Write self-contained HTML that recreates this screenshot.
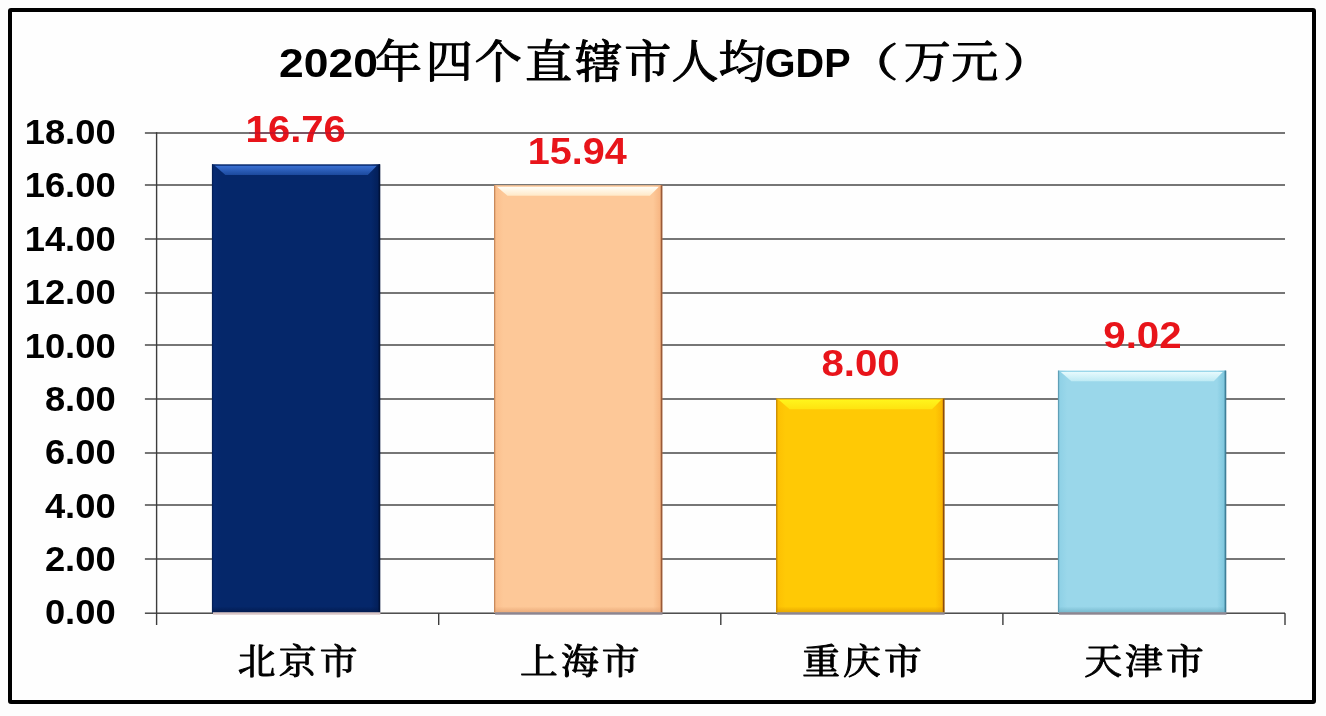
<!DOCTYPE html>
<html lang="zh-CN">
<head>
<meta charset="utf-8">
<title>2020年四个直辖市人均GDP（万元）</title>
<style>
html,body{margin:0;padding:0;background:#fdfdfd;}
body{width:1326px;height:716px;overflow:hidden;position:relative;}
svg{position:absolute;left:0;top:0;display:block;}
.ax{font-family:"Liberation Sans","Noto Sans CJK SC",sans-serif;font-weight:700;font-size:34.6px;fill:#000;}
.dv{font-family:"Liberation Sans","Noto Sans CJK SC",sans-serif;font-weight:700;font-size:36.4px;fill:#e8141a;}
.cat{font-family:"Liberation Serif","Noto Serif CJK SC",serif;font-weight:400;font-size:37px;fill:#000;stroke:#000;stroke-width:1.05px;stroke-linejoin:round;letter-spacing:3.1px;}
.tl{font-family:"Liberation Sans","Noto Sans CJK SC",sans-serif;font-weight:700;font-size:41px;fill:#000;}
.tc{font-family:"Liberation Serif","Noto Serif CJK SC",serif;font-weight:400;font-size:47px;fill:#000;stroke:#000;stroke-width:1.2px;stroke-linejoin:round;}
</style>
</head>
<body>
<svg width="1326" height="716" viewBox="0 0 1326 716">
<defs><linearGradient id="hl0" x1="0" y1="0" x2="0" y2="1"><stop offset="0" stop-color="#3a70d2"/><stop offset="1" stop-color="#1c4a9e"/></linearGradient><linearGradient id="gl0" x1="0" y1="0" x2="1" y2="0"><stop offset="0" stop-color="#0a2e7a" stop-opacity="0.6"/><stop offset="1" stop-color="#0a2e7a" stop-opacity="0"/></linearGradient><linearGradient id="gr0" x1="0" y1="0" x2="1" y2="0"><stop offset="0" stop-color="#021a4e" stop-opacity="0"/><stop offset="1" stop-color="#021a4e" stop-opacity="0.75"/></linearGradient><linearGradient id="gb0" x1="0" y1="0" x2="0" y2="1"><stop offset="0" stop-color="#021a4e" stop-opacity="0"/><stop offset="1" stop-color="#021a4e" stop-opacity="0.9"/></linearGradient><linearGradient id="hl1" x1="0" y1="0" x2="0" y2="1"><stop offset="0" stop-color="#fffef8"/><stop offset="1" stop-color="#ffe9c8"/></linearGradient><linearGradient id="gl1" x1="0" y1="0" x2="1" y2="0"><stop offset="0" stop-color="#f8b682" stop-opacity="0.6"/><stop offset="1" stop-color="#f8b682" stop-opacity="0"/></linearGradient><linearGradient id="gr1" x1="0" y1="0" x2="1" y2="0"><stop offset="0" stop-color="#f3aa74" stop-opacity="0"/><stop offset="1" stop-color="#f3aa74" stop-opacity="0.75"/></linearGradient><linearGradient id="gb1" x1="0" y1="0" x2="0" y2="1"><stop offset="0" stop-color="#e9a877" stop-opacity="0"/><stop offset="1" stop-color="#e9a877" stop-opacity="0.9"/></linearGradient><linearGradient id="hl2" x1="0" y1="0" x2="0" y2="1"><stop offset="0" stop-color="#fff41c"/><stop offset="1" stop-color="#ffe310"/></linearGradient><linearGradient id="gl2" x1="0" y1="0" x2="1" y2="0"><stop offset="0" stop-color="#fbb800" stop-opacity="0.6"/><stop offset="1" stop-color="#fbb800" stop-opacity="0"/></linearGradient><linearGradient id="gr2" x1="0" y1="0" x2="1" y2="0"><stop offset="0" stop-color="#f7a800" stop-opacity="0"/><stop offset="1" stop-color="#f7a800" stop-opacity="0.75"/></linearGradient><linearGradient id="gb2" x1="0" y1="0" x2="0" y2="1"><stop offset="0" stop-color="#e6a400" stop-opacity="0"/><stop offset="1" stop-color="#e6a400" stop-opacity="0.9"/></linearGradient><linearGradient id="hl3" x1="0" y1="0" x2="0" y2="1"><stop offset="0" stop-color="#e6fafd"/><stop offset="1" stop-color="#bdeaf4"/></linearGradient><linearGradient id="gl3" x1="0" y1="0" x2="1" y2="0"><stop offset="0" stop-color="#84cbe2" stop-opacity="0.6"/><stop offset="1" stop-color="#84cbe2" stop-opacity="0"/></linearGradient><linearGradient id="gr3" x1="0" y1="0" x2="1" y2="0"><stop offset="0" stop-color="#6dbdd6" stop-opacity="0"/><stop offset="1" stop-color="#6dbdd6" stop-opacity="0.75"/></linearGradient><linearGradient id="gb3" x1="0" y1="0" x2="0" y2="1"><stop offset="0" stop-color="#74b6cb" stop-opacity="0"/><stop offset="1" stop-color="#74b6cb" stop-opacity="0.9"/></linearGradient></defs>
<rect x="0" y="0" width="1326" height="716" fill="#fdfdfd"/>
<rect x="10" y="10" width="1304" height="692" fill="#fefefe" stroke="#000" stroke-width="4" rx="1"/>
<g id="title">
<text class="tl" transform="translate(279,77.4) scale(1.084,1)">2020</text>
<text class="tc" transform="translate(0,60) scale(1,0.96) translate(0,-60)" x="374.9 425.65 474.75 525.1 575.15 624.2 671.4 718.5" y="79">年四个直辖市人均</text>
<text class="tl" transform="translate(764.8,77.4) scale(0.966,1)">GDP</text>
<text class="tc" transform="translate(887.1,61.25) scale(1.13,0.84) translate(-887,-60)" x="850.1" y="79">（</text>
<text class="tc" transform="translate(0,60) scale(1,0.96) translate(0,-60)" x="903.75 951.2" y="79">万元</text>
<text class="tc" transform="translate(1013.45,61.25) scale(1.1,0.84) translate(-1013.5,-60)" x="1003.75" y="79">）</text>
</g>
<g id="grid">
<rect x="144.9" y="612.50" width="1140.1" height="1.4" fill="#3c3c3c"/>
<rect x="144.9" y="558.30" width="1140.1" height="1.4" fill="#3c3c3c"/>
<rect x="144.9" y="504.30" width="1140.1" height="1.4" fill="#3c3c3c"/>
<rect x="144.9" y="452.30" width="1140.1" height="1.4" fill="#3c3c3c"/>
<rect x="144.9" y="398.30" width="1140.1" height="1.4" fill="#3c3c3c"/>
<rect x="144.9" y="344.30" width="1140.1" height="1.4" fill="#3c3c3c"/>
<rect x="144.9" y="292.30" width="1140.1" height="1.4" fill="#3c3c3c"/>
<rect x="144.9" y="238.30" width="1140.1" height="1.4" fill="#3c3c3c"/>
<rect x="144.9" y="184.30" width="1140.1" height="1.4" fill="#3c3c3c"/>
<rect x="144.9" y="132.30" width="1140.1" height="1.4" fill="#3c3c3c"/>
<rect x="155.90" y="132.2" width="1.4" height="492.8" fill="#3c3c3c"/>
<rect x="438.00" y="613.2" width="1.4" height="11.8" fill="#3c3c3c"/>
<rect x="720.10" y="613.2" width="1.4" height="11.8" fill="#3c3c3c"/>
<rect x="1002.20" y="613.2" width="1.4" height="11.8" fill="#3c3c3c"/>
<rect x="1284.30" y="613.2" width="1.4" height="11.8" fill="#3c3c3c"/>
</g>
<g id="ylabels">
<text class="ax" transform="translate(115.6,624.3) scale(1.05,1)" text-anchor="end">0.00</text>
<text class="ax" transform="translate(115.6,570.9) scale(1.05,1)" text-anchor="end">2.00</text>
<text class="ax" transform="translate(115.6,517.6) scale(1.05,1)" text-anchor="end">4.00</text>
<text class="ax" transform="translate(115.6,464.2) scale(1.05,1)" text-anchor="end">6.00</text>
<text class="ax" transform="translate(115.6,410.8) scale(1.05,1)" text-anchor="end">8.00</text>
<text class="ax" transform="translate(115.6,357.5) scale(1.05,1)" text-anchor="end">10.00</text>
<text class="ax" transform="translate(115.6,304.1) scale(1.05,1)" text-anchor="end">12.00</text>
<text class="ax" transform="translate(115.6,250.7) scale(1.05,1)" text-anchor="end">14.00</text>
<text class="ax" transform="translate(115.6,197.3) scale(1.05,1)" text-anchor="end">16.00</text>
<text class="ax" transform="translate(115.6,144.0) scale(1.05,1)" text-anchor="end">18.00</text>
</g>
<g id="bars">
<g>
<rect x="212.2" y="164.3" width="167.8" height="448.1" fill="#05276a"/>
<rect x="212.2" y="164.3" width="9" height="448.1" fill="url(#gl0)"/>
<rect x="371.0" y="164.3" width="9" height="448.1" fill="url(#gr0)"/>
<rect x="212.2" y="606.4" width="167.8" height="6" fill="url(#gb0)"/>
<polygon points="214.8,165.8 376.8,165.8 367.8,174.9 225.4,174.9" fill="url(#hl0)"/>
<rect x="211.9" y="164.3" width="1.3" height="448.1" fill="#041f58"/>
<rect x="378.6" y="164.3" width="1.7" height="448.1" fill="#01133a"/>
<rect x="213.0" y="612.3" width="167.4" height="2.4" fill="#d8c4c4"/>
<text class="dv" transform="translate(295.7,141.9) scale(1.1,1)" text-anchor="middle">16.76</text>
<text class="cat" transform="translate(299.2,674.0) scale(1.02,0.95)" text-anchor="middle">北京市</text>
</g>
<g>
<rect x="494.3" y="185.2" width="167.8" height="427.2" fill="#fdc898"/>
<rect x="494.3" y="185.2" width="9" height="427.2" fill="url(#gl1)"/>
<rect x="653.1" y="185.2" width="9" height="427.2" fill="url(#gr1)"/>
<rect x="494.3" y="606.4" width="167.8" height="6" fill="url(#gb1)"/>
<polygon points="496.9,186.7 658.9,186.7 649.9,195.8 507.5,195.8" fill="url(#hl1)"/>
<rect x="494.0" y="185.2" width="1.3" height="427.2" fill="#c98a5c"/>
<rect x="660.7" y="185.2" width="1.7" height="427.2" fill="#9a5a38"/>
<rect x="495.1" y="612.3" width="167.4" height="2.4" fill="#8c8590"/>
<text class="dv" transform="translate(577.3,164.0) scale(1.088,1)" text-anchor="middle">15.94</text>
<text class="cat" transform="translate(581.4,674.0) scale(1.02,0.95)" text-anchor="middle">上海市</text>
</g>
<g>
<rect x="776.4" y="398.6" width="167.8" height="213.8" fill="#ffc905"/>
<rect x="776.4" y="398.6" width="9" height="213.8" fill="url(#gl2)"/>
<rect x="935.2" y="398.6" width="9" height="213.8" fill="url(#gr2)"/>
<rect x="776.4" y="606.4" width="167.8" height="6" fill="url(#gb2)"/>
<polygon points="779.0,400.1 941.0,400.1 932.0,409.2 789.6,409.2" fill="url(#hl2)"/>
<rect x="776.1" y="398.6" width="1.3" height="213.8" fill="#c98a00"/>
<rect x="942.8" y="398.6" width="1.7" height="213.8" fill="#8a4c10"/>
<rect x="777.2" y="612.3" width="167.4" height="2.4" fill="#8c8590"/>
<text class="dv" transform="translate(860.6,376.0) scale(1.105,1)" text-anchor="middle">8.00</text>
<text class="cat" transform="translate(863.5,674.0) scale(1.02,0.95)" text-anchor="middle">重庆市</text>
</g>
<g>
<rect x="1058.2" y="370.6" width="167.8" height="241.8" fill="#9ad7ea"/>
<rect x="1058.2" y="370.6" width="9" height="241.8" fill="url(#gl3)"/>
<rect x="1217.0" y="370.6" width="9" height="241.8" fill="url(#gr3)"/>
<rect x="1058.2" y="606.4" width="167.8" height="6" fill="url(#gb3)"/>
<polygon points="1060.8,372.1 1222.8,372.1 1213.8,381.2 1071.4,381.2" fill="url(#hl3)"/>
<rect x="1057.9" y="370.6" width="1.3" height="241.8" fill="#5f9fb6"/>
<rect x="1224.6" y="370.6" width="1.7" height="241.8" fill="#3f7f98"/>
<rect x="1059.0" y="612.3" width="167.4" height="2.4" fill="#8c8590"/>
<text class="dv" transform="translate(1142.4,347.5) scale(1.105,1)" text-anchor="middle">9.02</text>
<text class="cat" transform="translate(1145.5,674.0) scale(1.02,0.95)" text-anchor="middle">天津市</text>
</g>
<rect x="249" y="132.4" width="95" height="1.2" fill="#8a1040" opacity="0.5"/>
</g>
</svg>
</body>
</html>
